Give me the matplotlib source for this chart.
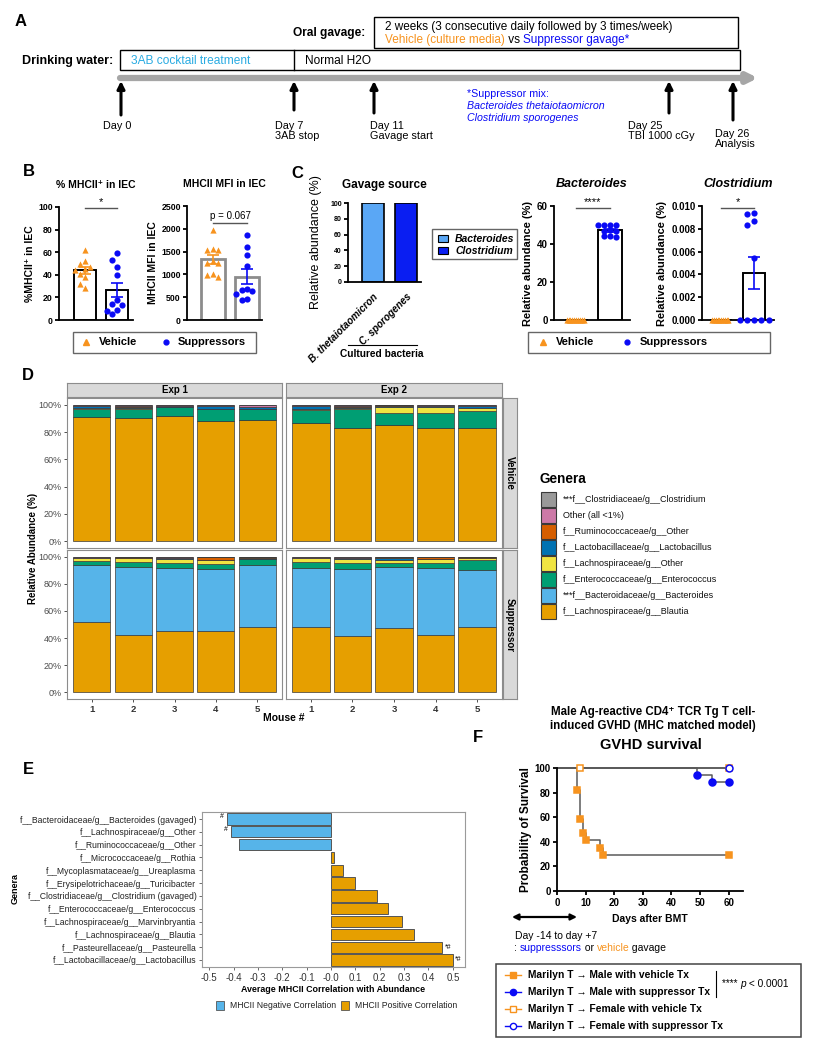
import numpy as np
import matplotlib
matplotlib.use("Agg")
import matplotlib.pyplot as plt
from matplotlib.patches import Rectangle

plt.rcParams['font.family'] = ['Liberation Sans', 'DejaVu Sans']

W, H = 815, 1050
ORANGE = '#F7931E'
BLUE = '#0A0AF5'
SKY = '#29ABE2'

# ---------------- data ----------------
# A: timeline
day_labels = ['Day 0', 'Day 7\n3AB stop', 'Day 11\nGavage start', 'Day 25\nTBI 1000 cGy', 'Day 26\nAnalysis']

# B: MHCII in IEC
mhc_pct_veh = [62, 52, 50, 47, 45, 44, 41, 38, 32, 28]
mhc_pct_sup = [59, 53, 47, 40, 18, 14, 13, 9, 8, 5]
mhc_mfi_veh = [1970, 1560, 1540, 1530, 1290, 1240, 1260, 1010, 980, 940]
mhc_mfi_sup = [1870, 1600, 1420, 1180, 680, 660, 640, 580, 450, 440]

# C: gavage source and relative abundance
gavage_names = ['B. thetaiotaomicron', 'C. sporogenes']
gavage_genus = ['Bacteroides', 'Clostridium']
gavage_abund = [100, 100]
bact_veh = [0, 0, 0, 0, 0, 0, 0, 0, 0, 0]
bact_sup = [49.8, 49.8, 49.8, 49.8, 47.2, 46.6, 46.9, 44.0, 44.2, 43.8]
clost_veh = [0, 0, 0, 0, 0, 0, 0, 0, 0, 0]
clost_sup = [0.0094, 0.0093, 0.0087, 0.0083, 0.0054, 0, 0, 0, 0, 0]

# D: genera, stacked from bottom to top
genera = ['f__Lachnospiraceae/g__Blautia', '***f__Bacteroidaceae/g__Bacteroides',
          'f__Enterococcaceae/g__Enterococcus', 'f__Lachnospiraceae/g__Other',
          'f__Lactobacillaceae/g__Lactobacillus', 'f__Ruminococcaceae/g__Other',
          'Other (all <1%)', '***f__Clostridiaceae/g__Clostridium']
genera_colors = ['#E69F00', '#56B4E9', '#009E73', '#F0E442', '#0072B2', '#D55E00', '#CC79A7', '#999999']
mice = [1, 2, 3, 4, 5]
veh_exp1 = [[91.0, 90.0, 91.5, 87.8, 88.8],
            [0.1, 0.1, 0.1, 0.1, 0.1],
            [6.0, 7.0, 6.5, 8.8, 7.8],
            [0.4, 0.3, 0.3, 0.3, 0.3],
            [1.5, 1.2, 1.0, 1.8, 1.3],
            [0.2, 0.2, 0.1, 0.2, 0.2],
            [0.6, 1.0, 0.3, 0.8, 1.3],
            [0.2, 0.2, 0.2, 0.2, 0.2]]
veh_exp2 = [[86.4, 83.2, 85.2, 82.7, 82.7],
            [0.1, 0.1, 0.1, 0.1, 0.1],
            [9.7, 13.9, 9.0, 11.5, 12.4],
            [1.0, 0.6, 4.3, 3.8, 2.2],
            [1.8, 0.8, 0.9, 1.2, 1.9],
            [0.2, 0.4, 0.1, 0.2, 0.1],
            [0.6, 0.6, 0.2, 0.3, 0.4],
            [0.2, 0.4, 0.2, 0.2, 0.2]]
sup_exp1 = [[51.7, 42.6, 45.1, 45.1, 48.5],
            [42.4, 49.8, 46.6, 46.1, 45.6],
            [2.5, 3.7, 3.9, 3.2, 3.9],
            [2.2, 2.9, 2.9, 3.1, 0.5],
            [0.4, 0.2, 0.5, 0.2, 0.9],
            [0.1, 0.5, 0.3, 1.8, 0.1],
            [0.2, 0.2, 0.3, 0.4, 0.3],
            [0.5, 0.1, 0.4, 0.1, 0.2]]
sup_exp2 = [[47.8, 41.2, 47.1, 42.4, 47.8],
            [44.1, 49.7, 45.1, 49.5, 42.4],
            [3.9, 4.2, 3.4, 3.2, 7.3],
            [3.0, 3.4, 1.9, 3.2, 1.8],
            [0.5, 0.8, 1.9, 0.3, 0.1],
            [0.1, 0.1, 0.1, 0.9, 0.1],
            [0.2, 0.2, 0.4, 0.4, 0.4],
            [0.4, 0.4, 0.1, 0.1, 0.1]]

# E: correlation with MHCII
corr_genera = ['f__Bacteroidaceae/g__Bacteroides (gavaged)', 'f__Lachnospiraceae/g__Other',
               'f__Ruminococcaceae/g__Other', 'f__Micrococcaceae/g__Rothia',
               'f__Mycoplasmataceae/g__Ureaplasma', 'f__Erysipelotrichaceae/g__Turicibacter',
               'f__Clostridiaceae/g__Clostridium (gavaged)', 'f__Enterococcaceae/g__Enterococcus',
               'f__Lachnospiraceae/g__Marvinbryantia', 'f__Lachnospiraceae/g__Blautia',
               'f__Pasteurellaceae/g__Pasteurella', 'f__Lactobacillaceae/g__Lactobacillus']
corr_values = [-0.426, -0.41, -0.38, 0.012, 0.047, 0.10, 0.189, 0.235, 0.293, 0.342, 0.457, 0.50]
corr_marks = ['#', '#', '', '', '', '', '', '', '', '', '*#', '*#']

# F: survival
surv_labels = ['Marilyn T \u2192 Male with vehicle Tx', 'Marilyn T \u2192 Male with suppressor Tx',
               'Marilyn T \u2192 Female with vehicle Tx', 'Marilyn T \u2192 Female with suppressor Tx']
surv_days = [[0, 7, 8, 9, 10, 15, 16, 60], [0, 49, 54, 60], [0, 8, 60], [0, 60]]
surv_pct = [[100, 82.4, 58.8, 47.1, 41.2, 35.3, 29.4, 29.4], [100, 94.4, 88.9, 88.9],
            [100, 100, 100], [100, 100]]

# ---------------- figure ----------------
fig = plt.figure(figsize=(8.15, 10.5), dpi=100)


def px_axes(x0, y0, x1, y1):
    return fig.add_axes([x0 / W, 1 - y1 / H, (x1 - x0) / W, (y1 - y0) / H])


ov = px_axes(0, 0, W, H)
ov.set_xlim(0, W)
ov.set_ylim(H, 0)
ov.axis('off')
ov.set_zorder(10)


def chain_text(ax, x, y, parts, **common):
    prev = None
    for s, props in parts:
        kw = dict(common)
        kw.update(props)
        if prev is None:
            prev = ax.text(x, y, s, ha='left', va='center', **kw)
        else:
            prev = ax.annotate(s, xy=(1, 0.5), xycoords=prev, ha='left', va='center', **kw)
    return prev


def swarm(vals, thresh, step):
    vals = np.asarray(vals, float)
    offs = np.zeros(len(vals))
    placed = []
    cands = [0]
    for k in range(1, 8):
        cands += [-k * step, k * step]
    for i in np.argsort(-vals, kind='stable'):
        near = [offs[j] for j in placed if abs(vals[j] - vals[i]) < thresh]
        for c in cands:
            if all(abs(c - o) > step * 0.5 for o in near):
                offs[i] = c
                break
        placed.append(i)
    return offs


def prism(ax, yticks, labels, fs=6.3):
    for s in ['top', 'right']:
        ax.spines[s].set_visible(False)
    for s in ['left', 'bottom']:
        ax.spines[s].set_linewidth(1.3)
    ax.set_xticks([])
    ax.set_yticks(yticks)
    ax.set_yticklabels(labels, fontsize=fs, fontweight='bold')
    ax.tick_params(axis='y', length=3, width=1.3, pad=1.5)
    ax.patch.set_visible(False)


def dotbar(ax, groups, thresh, steps, bar_edge='black', bar_lw=1.4):
    cols = [ORANGE, BLUE]
    marks = ['^', 'o']
    for i, vals in enumerate(groups):
        vals = np.asarray(vals, float)
        mean = vals.mean()
        sem = vals.std(ddof=1) / np.sqrt(len(vals))
        ax.bar(i, mean, width=0.68, facecolor='white', edgecolor=bar_edge, linewidth=bar_lw, zorder=1)
        ax.scatter(i + swarm(vals, thresh, steps[i]), vals, marker=marks[i], s=20,
                   color=cols[i], linewidths=0, zorder=3, clip_on=False)
        if sem > 0:
            ax.errorbar(i, mean, yerr=sem, color=cols[i], capsize=4, elinewidth=1.2,
                        capthick=1.2, zorder=4)


def sig(ax, y, text, x0=0, x1=1, dy=0.0, fs=8):
    ax.plot([x0, x1], [y, y], color='#555555', lw=1, clip_on=False)
    ax.text((x0 + x1) / 2, y + dy, text, ha='center', va='bottom', fontsize=fs, clip_on=False)


# ---------------- panel A ----------------
ov.text(15, 21, 'A', fontsize=12, fontweight='bold', va='center')
ov.text(293, 33, 'Oral gavage:', fontsize=8.6, fontweight='bold', va='center')
ov.add_patch(Rectangle((374, 17), 364, 31, fill=False, lw=1, ec='black'))
ov.text(385, 27, '2 weeks (3 consecutive daily followed by 3 times/week)', fontsize=8.5, va='center')
chain_text(ov, 385, 40, [('Vehicle (culture media)', {'color': ORANGE}),
                         (' vs ', {'color': 'black'}),
                         ('Suppressor gavage*', {'color': BLUE})], fontsize=8.5)
ov.text(22, 61, 'Drinking water:', fontsize=9, fontweight='bold', va='center')
ov.add_patch(Rectangle((120, 50), 620, 20, fill=False, lw=1, ec='black'))
ov.plot([294, 294], [50, 70], color='black', lw=1)
ov.text(131, 61, '3AB cocktail treatment', fontsize=8.6, color=SKY, va='center')
ov.text(305, 61, 'Normal H2O', fontsize=8.6, va='center')
ov.annotate('', xy=(758, 78), xytext=(120, 78),
            arrowprops=dict(arrowstyle='-|>', lw=4.5, color='#A6A6A6', mutation_scale=14,
                            shrinkA=0, shrinkB=0))
day_arrow_x = [121, 294, 374, 669, 733]
day_arrow_tail = [115, 110, 113, 113, 120]
day_text_x = [103, 275, 370, 628, 715]
day_text_y = [121, 121, 121, 121, 129]
for lab, xa, yt, xt, ytx in zip(day_labels, day_arrow_x, day_arrow_tail, day_text_x, day_text_y):
    ov.annotate('', xy=(xa, 81), xytext=(xa, yt),
                arrowprops=dict(arrowstyle='-|>', lw=2.2, color='black', mutation_scale=11,
                                shrinkA=0, shrinkB=0))
    ov.text(xt, ytx, lab, fontsize=7.8, va='top', ha='left', linespacing=1.0)
ov.text(467, 94, '*Suppressor mix:', fontsize=7.7, color=BLUE, va='center')
ov.text(467, 106, 'Bacteroides thetaiotaomicron', fontsize=7.7, color=BLUE, style='italic', va='center')
ov.text(467, 118, 'Clostridium sporogenes', fontsize=7.7, color=BLUE, style='italic', va='center')

# ---------------- panel B ----------------
ov.text(23, 172, 'B', fontsize=12, fontweight='bold', va='center')
axb1 = px_axes(59, 207, 133, 320)
dotbar(axb1, [mhc_pct_veh, mhc_pct_sup], 7, [0.16, 0.16])
axb1.set_xlim(-0.81, 1.5)
axb1.set_ylim(0, 100)
prism(axb1, [0, 20, 40, 60, 80, 100], ['0', '20', '40', '60', '80', '100'])
axb1.set_ylabel('%MHCII\u207A in IEC', fontsize=7.5, fontweight='bold', labelpad=2)
axb1.set_title('% MHCII\u207A in IEC', fontsize=7.5, fontweight='bold', pad=14)
sig(axb1, 99, '*', dy=0.5)

axb2 = px_axes(187, 206, 262, 320)
dotbar(axb2, [mhc_mfi_veh, mhc_mfi_sup], 180, [0.16, 0.16], bar_edge='#8C8C8C', bar_lw=2)
axb2.set_xlim(-0.76, 1.44)
axb2.set_ylim(0, 2500)
prism(axb2, [0, 500, 1000, 1500, 2000, 2500], ['0', '500', '1000', '1500', '2000', '2500'])
axb2.set_ylabel('MHCII MFI in IEC', fontsize=7.5, fontweight='bold', labelpad=2)
axb2.set_title('MHCII MFI in IEC', fontsize=7.5, fontweight='bold', pad=14)
sig(axb2, 2120, 'p = 0.067', dy=60, fs=7)

for ox, box_w, mk_x, txt_x in [(73, 183, [86, 166], [99, 178]), (528, 242, [543, 627], [556, 640])]:
    ov.add_patch(Rectangle((ox, 332), box_w, 21, fill=False, lw=1, ec='#666666'))
    ov.plot(mk_x[0], 342, marker='^', color=ORANGE, ms=4, ls='none')
    ov.plot(mk_x[1], 342, marker='o', color=BLUE, ms=3.5, ls='none')
    ov.text(txt_x[0], 342, 'Vehicle', fontsize=8, fontweight='bold', va='center')
    ov.text(txt_x[1], 342, 'Suppressors', fontsize=8, fontweight='bold', va='center')

# ---------------- panel C ----------------
ov.text(291, 173, 'C', fontsize=12, fontweight='bold', va='center')
axg = px_axes(348, 203, 421, 282)
gav_colors = ['#5AA7F5', '#0A1EF2']
axg.bar([0, 1], gavage_abund, width=0.67, color=gav_colors, edgecolor='black', linewidth=1.2)
axg.set_xlim(-0.76, 1.45)
axg.set_ylim(0, 100)
prism(axg, [0, 20, 40, 60, 80, 100], ['0', '20', '40', '60', '80', '100'], fs=5)
axg.set_xticks([0, 1])
axg.set_xticklabels(gavage_names, rotation=45, ha='right', rotation_mode='anchor',
                    fontsize=7.1, fontweight='bold', style='italic')
axg.tick_params(axis='x', length=0, pad=7)
axg.set_ylabel('Relative abundance (%)', fontsize=9, labelpad=6)
axg.set_title('Gavage source', fontsize=8.5, fontweight='bold', pad=11)
ov.plot([348, 417], [345, 345], color='black', lw=0.8)
ov.text(382, 354, 'Cultured bacteria', fontsize=7.3, fontweight='bold', ha='center', va='center')
ov.add_patch(Rectangle((432, 229), 85, 30, fill=False, lw=1, ec='#666666'))
for k, (g, c) in enumerate(zip(gavage_genus, gav_colors)):
    ov.add_patch(Rectangle((438, 235 + 12 * k), 10, 7, fc=c, ec='black', lw=0.8))
    ov.text(455, 238.5 + 12 * k, g, fontsize=7.5, fontweight='bold', style='italic', va='center')

axc1 = px_axes(554, 206, 630, 320)
dotbar(axc1, [bact_veh, bact_sup], 2.0, [0.055, 0.18])
axc1.set_xlim(-0.65, 1.59)
axc1.set_ylim(0, 60)
prism(axc1, [0, 20, 40, 60], ['0', '20', '40', '60'], fs=7)
axc1.set_ylabel('Relative abundance (%)', fontsize=8, fontweight='bold', labelpad=3)
axc1.set_title('Bacteroides', fontsize=9, fontweight='bold', style='italic', pad=14)
sig(axc1, 59.2, '****', dy=0.2)

axc2 = px_axes(702, 206, 774, 320)
dotbar(axc2, [clost_veh, clost_sup], 0.0004, [0.055, 0.22])
axc2.set_xlim(-0.58, 1.6)
axc2.set_ylim(0, 0.010)
ct = [0, 0.002, 0.004, 0.006, 0.008, 0.010]
prism(axc2, ct, ['%.3f' % v for v in ct], fs=7)
axc2.set_ylabel('Relative abundance (%)', fontsize=8, fontweight='bold', labelpad=3)
axc2.set_title('Clostridium', fontsize=9, fontweight='bold', style='italic', pad=14)
sig(axc2, 0.00985, '*', dy=0.00003)

# ---------------- panel D ----------------
ov.text(22, 375, 'D', fontsize=12, fontweight='bold', va='center')
BORDER = '#8C8C8C'


def strip(x0, y0, x1, y1, text, rot=0):
    a = px_axes(x0, y0, x1, y1)
    a.set_facecolor('#D9D9D9')
    a.set_xticks([])
    a.set_yticks([])
    for s in a.spines.values():
        s.set_color(BORDER)
        s.set_linewidth(0.8)
    a.text(0.5, 0.5, text, transform=a.transAxes, ha='center', va='center', rotation=rot,
           fontsize=7, fontweight='bold')


def stacked(ax, table, left, bottom_row):
    base = np.zeros(len(mice))
    for vals, c in zip(table, genera_colors):
        v = np.asarray(vals) / 100.0
        ax.bar(mice, v, bottom=base, width=0.9, color=c, edgecolor='#3A3A3A', linewidth=0.5)
        base += v
    ax.set_xlim(0.4, 5.6)
    ax.set_ylim(-0.05, 1.05)
    for s in ax.spines.values():
        s.set_color(BORDER)
        s.set_linewidth(0.8)
    ax.tick_params(length=2, color='#333333', width=0.6, pad=2)
    ax.set_yticks([0, 0.2, 0.4, 0.6, 0.8, 1.0])
    if left:
        ax.set_yticklabels(['0%', '20%', '40%', '60%', '80%', '100%'], fontsize=6.5, color='#4D4D4D')
    else:
        ax.set_yticklabels([])
        ax.tick_params(axis='y', length=0)
    ax.set_xticks(mice)
    if bottom_row:
        ax.set_xticklabels([str(m) for m in mice], fontsize=6.8, fontweight='bold', color='#333333')
    else:
        ax.set_xticklabels([])
        ax.tick_params(axis='x', length=0)


panels = [(veh_exp1, 67, 398, 282, 548, True, False), (veh_exp2, 286, 398, 502, 548, False, False),
          (sup_exp1, 67, 550, 282, 699, True, True), (sup_exp2, 286, 550, 502, 699, False, True)]
for table, x0, y0, x1, y1, left, bot in panels:
    stacked(px_axes(x0, y0, x1, y1), table, left, bot)
strip(67, 383, 282, 397, 'Exp 1')
strip(286, 383, 502, 397, 'Exp 2')
strip(503, 398, 517, 548, 'Vehicle', -90)
strip(503, 550, 517, 699, 'Suppressor', -90)
ov.text(33, 548, 'Relative Abundance (%)', rotation=90, fontsize=7, fontweight='bold',
        ha='center', va='center')
ov.text(284, 718, 'Mouse #', fontsize=7.5, fontweight='bold', ha='center', va='center')

ov.text(540, 479, 'Genera', fontsize=9.8, fontweight='bold', va='center')
for k, idx in enumerate(range(len(genera) - 1, -1, -1)):
    yc = 499.5 + 16 * k
    ov.add_patch(Rectangle((541, yc - 7.5), 15, 15, fc=genera_colors[idx], ec='#3A3A3A', lw=0.8))
    ov.text(563, yc, genera[idx], fontsize=6.5, va='center', color='#111111')

# ---------------- panel E ----------------
ov.text(23, 770, 'E', fontsize=12, fontweight='bold', va='center')
axe = px_axes(202, 812, 465, 967)
ypos = np.arange(len(corr_genera), 0, -1)
ecols = ['#56B4E9' if v < 0 else '#E69F00' for v in corr_values]
axe.barh(ypos, corr_values, height=0.88, color=ecols, edgecolor='#555555', linewidth=0.7)
for y, v, m in zip(ypos, corr_values, corr_marks):
    if m:
        if v < 0:
            axe.text(v - 0.015, y + 0.2, m, ha='right', va='center', fontsize=5)
        else:
            axe.text(v + 0.01, y, m, ha='left', va='center', fontsize=5)
axe.set_xlim(-0.53, 0.55)
axe.set_ylim(0.45, 12.55)
xt = np.round(np.arange(-0.5, 0.51, 0.1), 1)
axe.set_xticks(xt)
axe.set_xticklabels(['%.1f' % v for v in xt], fontsize=7, color='#333333')
axe.set_yticks(ypos)
axe.set_yticklabels(corr_genera, fontsize=6.2, color='#222222')
axe.tick_params(length=2, width=0.6, color='#555555', pad=2)
for s in axe.spines.values():
    s.set_color('#9A9A9A')
    s.set_linewidth(0.8)
axe.set_xlabel('Average MHCII Correlation with Abundance', fontsize=6.4, fontweight='bold', labelpad=2)
ov.text(15, 888, 'Genera', rotation=90, fontsize=6.5, fontweight='bold', ha='center', va='center')
for px, c, lab in [(216, '#56B4E9', 'MHCII Negative Correlation'), (341, '#E69F00', 'MHCII Positive Correlation')]:
    ov.add_patch(Rectangle((px, 1000.5), 8, 9, fc=c, ec='#555555', lw=0.6))
    ov.text(px + 14, 1005, lab, fontsize=6.2, va='center', color='#222222')

# ---------------- panel F ----------------
ov.text(473, 737, 'F', fontsize=12, fontweight='bold', va='center')
ov.text(653, 719, 'Male Ag-reactive CD4\u207A TCR Tg T cell-\ninduced GVHD (MHC matched model)',
        fontsize=8.3, fontweight='bold', ha='center', va='center', linespacing=1.15)
ov.text(651, 745, 'GVHD survival', fontsize=10.5, fontweight='bold', ha='center', va='center')
axf = px_axes(557, 768, 743, 891)
surv_colors = [ORANGE, BLUE, ORANGE, BLUE]
surv_marker = ['s', 'o', 's', 'o']
surv_fill = [True, True, False, False]
for k in [2, 3, 0, 1]:
    d, p = surv_days[k], surv_pct[k]
    axf.step(d, p, where='post', color='#5A5A5A', lw=1.1, clip_on=False, zorder=2)
    axf.plot(d[1:], p[1:], marker=surv_marker[k], ls='none', ms=5,
             mfc=surv_colors[k] if surv_fill[k] else 'white', mec=surv_colors[k], mew=1.1,
             clip_on=False, zorder=4)
axf.set_xlim(0, 65)
axf.set_ylim(0, 100)
prism(axf, [0, 20, 40, 60, 80, 100], ['0', '20', '40', '60', '80', '100'], fs=7)
axf.set_xticks([0, 10, 20, 30, 40, 50, 60])
axf.set_xticklabels(['0', '10', '20', '30', '40', '50', '60'], fontsize=7, fontweight='bold')
axf.tick_params(axis='x', length=3, width=1.3, pad=2)
axf.set_xlabel('Days after BMT', fontsize=7.5, fontweight='bold', labelpad=4)
axf.set_ylabel('Probability of Survival', fontsize=8.5, fontweight='bold', labelpad=2)

ov.annotate('', xy=(577, 917), xytext=(512, 917),
            arrowprops=dict(arrowstyle='<|-|>', lw=1.6, color='black', mutation_scale=9,
                            shrinkA=0, shrinkB=0))
ov.text(515, 936, 'Day -14 to day +7', fontsize=7.5, va='center')
chain_text(ov, 514, 948, [(': ', {'color': 'black'}), ('suppresssors', {'color': BLUE}),
                          (' or ', {'color': 'black'}), ('vehicle', {'color': ORANGE}),
                          (' gavage', {'color': 'black'})], fontsize=7.5)
ov.add_patch(Rectangle((496, 964), 305, 73, fill=False, lw=1.1, ec='#444444'))
for k, lab in enumerate(surv_labels):
    yc = 975 + 17 * k
    ov.plot([505, 521], [yc, yc], color=surv_colors[k], lw=1)
    ov.plot(513, yc, marker=surv_marker[k], ms=4.5, mec=surv_colors[k], mew=1,
            mfc=surv_colors[k] if surv_fill[k] else 'white')
    ov.text(528, yc, lab, fontsize=7.4, fontweight='bold', va='center')
ov.plot([716, 716], [971, 997], color='black', lw=0.8)
chain_text(ov, 722, 984, [('**** ', {}), ('p', {'style': 'italic'}), (' < 0.0001', {})], fontsize=7.3)

fig.savefig('out.png', dpi=100, facecolor='white')
